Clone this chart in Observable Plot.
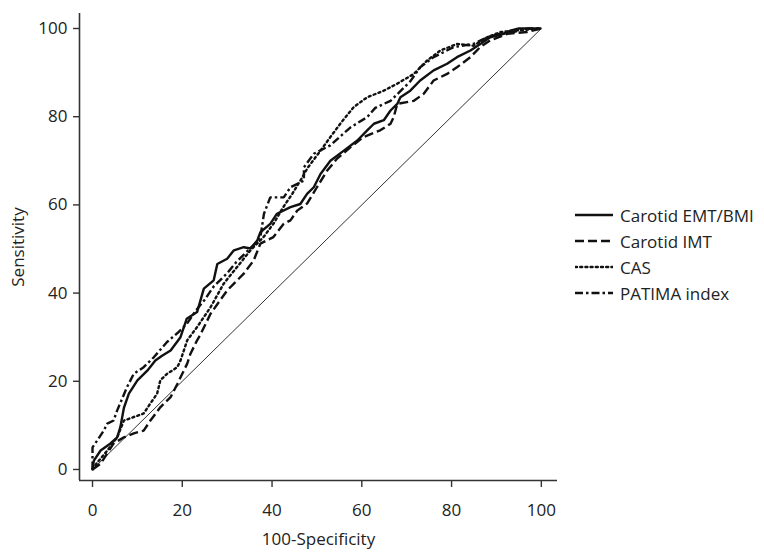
<!DOCTYPE html>
<html>
<head>
<meta charset="utf-8">
<script src="https://cdn.jsdelivr.net/npm/d3@7"></script>
<script src="https://cdn.jsdelivr.net/npm/@observablehq/plot@0.6"></script>
<style>
  body { margin: 0; background: #fff; font-family: "Open Sans", sans-serif; }
  #wrap { position: relative; width: 764px; height: 553px; }
  #legend { position: absolute; left: 575px; top: 202px; font-size: 17px; color: #222; }
  .row { display: flex; align-items: center; height: 26px; }
  .row svg { margin-right: 7px; }
</style>
</head>
<body>
<div id="wrap"><div id="legend"></div></div>
<script>
const seriesNames = ["Carotid EMT/BMI", "Carotid IMT", "CAS", "PATIMA index"];

const emtX = [0,0.3,1.8,4,5.5,6.2,7,8.1,10,12.2,14,15.5,17.4,19.6,21,23.3,24.8,27,27.8,30,31.5,33.7,35.2,36.7,37.4,39.6,41.1,44.1,46.3,47.8,49.3,50.8,53,56,59,61.2,62.7,64.9,66.4,67.9,68.6,70.8,73,76,79,81.2,84.2,86.4,88.6,91.6,93.1,95,100];
const emtY = [0,2,4.3,5.9,7.3,9.6,14,17.2,20.2,22.4,24.7,25.8,27,30,34.2,35.7,41,42.9,46.6,47.8,49.7,50.4,50.1,51.9,53.8,55.7,58,59.5,60.2,62.5,64,67,70,72.3,74.6,76.9,78.4,79.2,81.4,82.9,84.4,85.9,88.2,90.5,92,93.5,95,96.5,98,98.8,99.5,100,100];

const imtX = [0,1.8,4.7,7,9.2,11.4,12.9,15.1,16.6,17.4,18.9,21.1,21.8,23.3,24,26.3,30,33.7,35.9,37.4,40.3,42.6,44.1,45.6,47.8,50,52.3,54.5,57.5,60.4,64.1,66.4,67.1,67.9,71.6,73.8,76,79,81.2,84.2,86.4,88.6,92.4,96.8,100];
const imtY = [0,1.3,5.9,7.3,8.2,8.8,11.1,14.1,15.6,16.4,19.4,24,26.2,29.3,30.5,35.3,40.6,44.4,47.4,51.2,52.7,55.7,56.5,58.7,60.3,64,67.8,70.5,73.1,75.4,76.9,78.4,79.9,82.9,83.6,85.2,88.2,89.7,91.2,93.5,95.8,97.3,98.8,99.2,100];

const casX = [0,1,3.3,5.5,7,9.2,11.4,12.9,14.4,15.1,16.6,18.9,19.6,21.1,23.3,26.3,29.2,32.2,35.2,38.1,40.5,42.5,44.5,46.3,48,50.8,53,55.2,58.2,61.2,64.9,67.9,71.6,74.5,77.5,81.2,84.9,87.9,90.9,95,100];
const casY = [0,1.5,4.3,7.3,11.1,11.9,12.7,15,17.2,20.2,21.7,23.2,24.7,29.3,32.3,36.8,42.1,45.9,49.7,52.7,56,59.5,62.5,65.5,68.5,72.3,75.4,78.4,82.2,84.4,85.9,87.5,89.7,92.7,95,96.5,96.1,98,99.2,99.6,100];

const patX = [0,0,1,2.5,3.3,4.7,5.5,7.7,9.2,11.4,13.7,16.6,19,21,23,25,27,30,32,34,36,37.4,38.2,39.6,42.6,44.1,47.1,47.1,49.3,53,57.5,61.2,63,66.4,70.8,73,76,80.5,84.9,87.9,90.9,93.8,97,100];
const patY = [0,5,6.5,8.8,10.4,11.1,13.4,18.7,21.7,23.2,25.5,28.9,31,33,36,38.5,41.5,44.5,47,49,51,52.7,58,61.7,61.7,64,65.5,68.5,71.6,73.5,77.6,79.9,82,83.6,88,91.2,93.5,95.8,96.5,98,98.8,99.2,100,100];

const diagX = [0, 100];
const diagY = [0, 100];

const xTicks = [0, 20, 40, 60, 80, 100];
const yTicks = [0, 20, 40, 60, 80, 100];

const styles = {
  "Carotid EMT/BMI": null,
  "Carotid IMT": "9,4",
  "CAS": "2,3.2",
  "PATIMA index": "8,3,2.5,3"
};

const rows = [];
[[emtX, emtY], [imtX, imtY], [casX, casY], [patX, patY]].forEach(([xs, ys], i) => {
  xs.forEach((x, j) => rows.push({series: seriesNames[i], x, y: ys[j]}));
});
const diag = diagX.map((x, i) => ({x, y: diagY[i]}));

const font = "Open Sans, sans-serif";

const lineMarks = seriesNames.map(name => Plot.line(rows.filter(d => d.series === name), {
  x: "x", y: "y", stroke: "#111", strokeWidth: 2.4,
  strokeDasharray: styles[name], strokeLinecap: name === "CAS" ? "round" : "butt",
  strokeLinejoin: "miter"
}));

const chart = Plot.plot({
  width: 764, height: 553,
  marginLeft: 79, marginRight: 207, marginTop: 13, marginBottom: 73,
  style: {fontFamily: font, fontSize: "17px", color: "#222", background: "#fff"},
  x: {domain: [-2.9, 103.6]},
  y: {domain: [-2.5, 103.4]},
  marks: [
    Plot.line(diag, {x: "x", y: "y", stroke: "#333", strokeWidth: 1}),
    ...lineMarks,
    Plot.ruleX([-2.9], {stroke: "#333", strokeWidth: 1.6}),
    Plot.ruleY([-2.5], {stroke: "#333", strokeWidth: 1.6}),
    Plot.axisX(xTicks, {tickSize: 7, tickPadding: 16, stroke: "#333", strokeWidth: 1.4,
      label: "100-Specificity", labelAnchor: "center", labelArrow: "none", labelOffset: 64, fontSize: 17}),
    Plot.axisY(yTicks, {tickSize: 6, tickPadding: 6, stroke: "#333", strokeWidth: 1.4,
      label: "Sensitivity", labelAnchor: "center", labelArrow: "none", labelOffset: 68, fontSize: 17})
  ]
});
document.getElementById("wrap").prepend(chart);
chart.style.position = "absolute"; chart.style.left = "0"; chart.style.top = "0";

const legend = document.getElementById("legend");
seriesNames.forEach(name => {
  const row = document.createElement("div");
  row.className = "row";
  const dash = styles[name] ? `stroke-dasharray="${styles[name]}"` : "";
  const cap = name === "CAS" ? "round" : "butt";
  row.innerHTML = `<svg width="38" height="6"><line x1="0" y1="3" x2="38" y2="3" stroke="#111" stroke-width="2.4" ${dash} stroke-linecap="${cap}"/></svg><span>${name}</span>`;
  legend.appendChild(row);
});
</script>
</body>
</html>
